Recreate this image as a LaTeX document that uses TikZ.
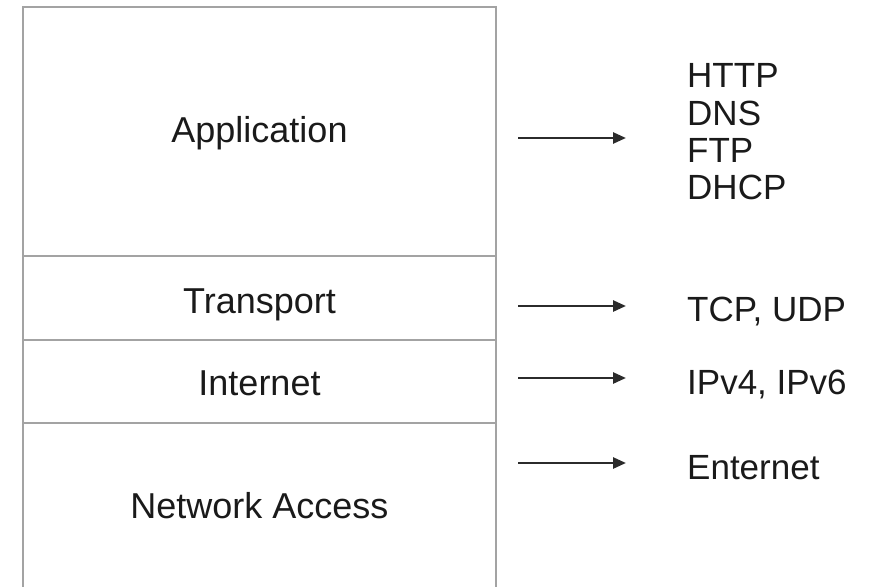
\documentclass[tikz,border=0pt]{standalone}
\usepackage{fontspec}
\setmainfont{Liberation Sans}
\usetikzlibrary{arrows.meta}

\definecolor{framegray}{HTML}{A3A3A3}
\definecolor{inkdark}{HTML}{2B2B2B}
\definecolor{textdark}{HTML}{1A1A1A}

\tikzset{
  frame/.style={draw=framegray, line width=2.2pt},
  layerlabel/.style={anchor=base, inner sep=0pt, text=textdark,
    font=\fontsize{36}{38}\selectfont},
  protolabel/.style={anchor=base west, inner sep=0pt, text=textdark,
    font=\fontsize{35}{38}\selectfont},
  maparrow/.style={draw=inkdark, line width=2.6pt,
    -{Triangle[length=13pt,width=11pt]}},
}

\begin{document}
\begin{tikzpicture}[x=1pt, y=-1pt]
  \useasboundingbox (0,0) rectangle (880,586);

  % stack outline (open at the bottom) and layer dividers
  \draw[frame] (23,600) -- (23,7) -- (496,7) -- (496,600);
  \draw[frame] (23,256) -- (496,256);
  \draw[frame] (23,340) -- (496,340);
  \draw[frame] (23,423) -- (496,423);

  % layer names
  \node[layerlabel] (app)  at (259.5,142) {Application};
  \node[layerlabel] (tra)  at (259.5,313) {Transport};
  \node[layerlabel] (inet) at (259.5,395) {Internet};
  \node[layerlabel] (nacc) at (259.5,518) {Network Access};

  % protocols of each layer
  \node[protolabel] (http) at (687,88)  {HTTP};
  \node[protolabel] (dns)  at (687,125) {DNS};
  \node[protolabel] (ftp)  at (687,162) {FTP};
  \node[protolabel] (dhcp) at (687,199) {DHCP};
  \node[protolabel] (tcp)  at (687,321) {TCP, UDP};
  \node[protolabel] (ip)   at (687,394) {IPv4, IPv6};
  \node[protolabel] (eth)  at (687,479) {Enternet};

  % arrow ends
  \coordinate (a1) at (518,138); \coordinate (b1) at (626,138);
  \coordinate (a2) at (518,306); \coordinate (b2) at (626,306);
  \coordinate (a3) at (518,378); \coordinate (b3) at (626,378);
  \coordinate (a4) at (518,463); \coordinate (b4) at (626,463);

  \draw[maparrow] (a1) -- (b1);
  \draw[maparrow] (a2) -- (b2);
  \draw[maparrow] (a3) -- (b3);
  \draw[maparrow] (a4) -- (b4);
\end{tikzpicture}
\end{document}
